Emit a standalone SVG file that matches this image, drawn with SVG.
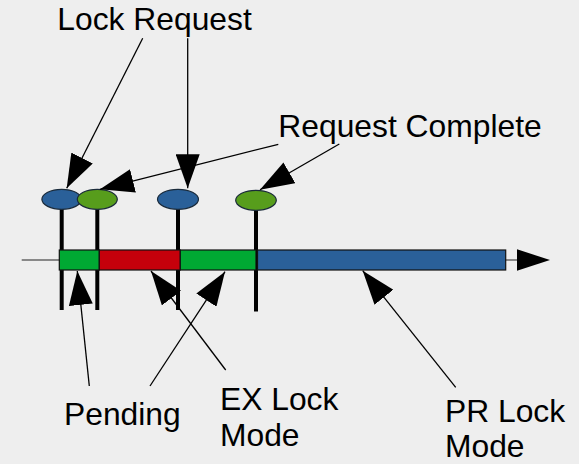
<svg xmlns="http://www.w3.org/2000/svg" width="579" height="464" viewBox="0 0 579 464">
<style>
.lbl{font-family:"Liberation Sans",Arial,sans-serif;font-size:31.8px;fill:#000}
.ptr{stroke:#000;stroke-width:1.3;fill:none;marker-end:url(#ah)}
.stem{stroke:#000;stroke-width:4}
.seg{stroke:#111;stroke-width:1.2}
.ell{stroke:#1a2a3a;stroke-width:1.2}
</style>
<defs>
<marker id="ah" viewBox="0 0 34 24" markerUnits="userSpaceOnUse" markerWidth="34" markerHeight="24" refX="34" refY="12" orient="auto">
<path d="M0,0 L34,12 L0,24 z" fill="#000"/>
</marker>
</defs>
<rect width="579" height="464" fill="#eeeeee"/>
<g id="axis">
<line x1="21.7" y1="260" x2="518" y2="260" stroke="#666" stroke-width="1.3"/>
<path d="M517,249.3 L550,260 L517,270.7 z" fill="#000"/>
</g>
<g id="stems">
<line class="stem" x1="61.7" y1="205" x2="61.7" y2="310"/>
<line class="stem" x1="97.3" y1="205" x2="97.3" y2="310"/>
<line class="stem" x1="178" y1="205" x2="178" y2="310"/>
<line class="stem" x1="256" y1="205" x2="256" y2="311.5"/>
</g>
<g id="bar">
<rect id="pending-seg" class="seg" x="59.3" y="250" width="40" height="20" fill="#00a933"/>
<rect id="ex-seg" class="seg" x="99.3" y="250" width="81" height="20" fill="#c5000b"/>
<rect id="ex-seg2" class="seg" x="180.3" y="250" width="75.7" height="20" fill="#00a933"/>
<rect id="pr-seg" class="seg" x="257.5" y="250" width="248.2" height="20" fill="#2a6099"/>
</g>
<g id="req1"><ellipse class="ell" cx="61.7" cy="199.3" rx="19.8" ry="10" fill="#2a6099"/></g>
<g id="done1"><ellipse class="ell" cx="97.3" cy="199.3" rx="20" ry="10" fill="#579d1c"/></g>
<g id="req2"><ellipse class="ell" cx="178" cy="199.3" rx="20.5" ry="10" fill="#2a6099"/></g>
<g id="done2"><ellipse class="ell" cx="256" cy="200.3" rx="20.3" ry="10" fill="#579d1c"/></g>
<g id="connectors">
<line class="ptr" x1="142.7" y1="38.3" x2="66.7" y2="188.3"/>
<line class="ptr" x1="187.7" y1="38.3" x2="187.7" y2="188.3"/>
<line class="ptr" x1="278.3" y1="144.3" x2="100" y2="189.3"/>
<line class="ptr" x1="339.3" y1="144" x2="260" y2="189.8"/>
<line class="ptr" x1="89.3" y1="386" x2="77.3" y2="271"/>
<line class="ptr" x1="225.7" y1="370" x2="151" y2="271"/>
<line class="ptr" x1="150" y1="386" x2="225" y2="271.7"/>
<line class="ptr" x1="455.7" y1="387.3" x2="362.7" y2="270.7"/>
</g>
<g id="lock-request"><text class="lbl" x="57.3" y="30">Lock Request</text></g>
<g id="request-complete"><text class="lbl" x="278.3" y="136.7">Request Complete</text></g>
<g id="pending"><text class="lbl" x="64" y="425">Pending</text></g>
<g id="ex-lock"><text class="lbl" x="220" y="409.5"><tspan x="220">EX Lock</tspan><tspan x="220" dy="36">Mode</tspan></text></g>
<g id="pr-lock"><text class="lbl" x="445" y="422"><tspan x="445">PR Lock</tspan><tspan x="445" dy="35">Mode</tspan></text></g>
</svg>
